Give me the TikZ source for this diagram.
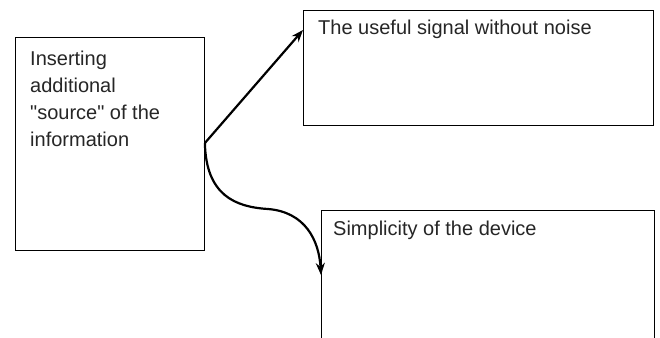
\documentclass[tikz,border=0pt]{standalone}
\usepackage{fontspec}
\setmainfont{Liberation Sans}[Ligatures=TeXOff]
\usetikzlibrary{arrows.meta}
\begin{document}
\begin{tikzpicture}[x=1pt,y=-1pt,
  box/.style={draw=black,line width=0.9pt,fill=none,inner sep=0pt,anchor=north west},
  txt/.style={anchor=base west,inner sep=0pt,font=\fontsize{20}{27}\selectfont,align=left,text=black!85},
  conn/.style={line width=2.2pt,-{Stealth[length=12pt,width=9pt]}}]
\useasboundingbox (0,0) rectangle (660,337);
\fill[white] (0,0) rectangle (660,337);
\clip (0,0) rectangle (660,337);
\node[box,minimum width=189pt,minimum height=213pt] (src) at (15,37) {};
\node[box,minimum width=350pt,minimum height=115pt] (sig) at (303,10) {};
\node[box,minimum width=333pt,minimum height=140pt] (simp) at (321,210) {};
\node[txt] (srct) at (30,146) {Inserting\\additional\\"source" of the\\information};
\node[txt] (sigt) at (318,35) {The useful signal without noise};
\node[txt] (simpt) at (333,235) {Simplicity of the device};
\coordinate (start) at (src.east |- 0,143);
\coordinate (end1) at (sig.west |- 0,30);
\coordinate (end2) at (simp.west |- 0,275);
\draw[conn] (start) -- (end1);
\draw[conn] (start) .. controls (206,195) and (235,207) .. (268,209) .. controls (305,212) and (319,240) .. (end2);
\end{tikzpicture}
\end{document}
